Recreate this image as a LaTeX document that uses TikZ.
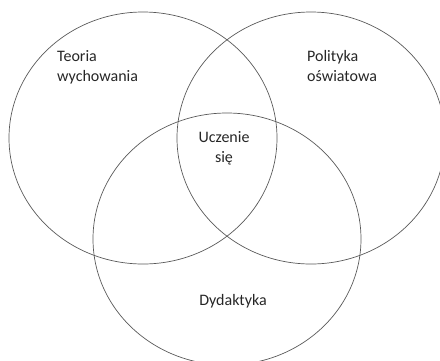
\documentclass[tikz,border=0pt]{standalone}
\usepackage{fontspec}
\setmainfont{Carlito}
\begin{document}
\begin{tikzpicture}[x=1pt,y=-1pt,
  ring/.style={draw=black!65,line width=0.7pt},
  lbl/.style={font=\fontsize{16}{19.5}\selectfont,text=black!85,inner sep=0pt}]
\useasboundingbox (0,0) rectangle (440,360);
\clip (0,0) rectangle (440,360);
\draw[ring] (143,138) ellipse [x radius=134, y radius=126];
\draw[ring] (311,138) ellipse [x radius=134, y radius=126];
\draw[ring] (227,239) ellipse [x radius=134, y radius=126];
\node[lbl,anchor=base west,align=left] (teoria) at (57,81) {Teoria\\wychowania};
\node[lbl,anchor=base west,align=left] (polityka) at (307,81) {Polityka\\oświatowa};
\node[lbl,anchor=base,align=center] (uczenie) at (224,162) {Uczenie\\się};
\node[lbl,anchor=base] (dydaktyka) at (233,305) {Dydaktyka};
\end{tikzpicture}
\end{document}
